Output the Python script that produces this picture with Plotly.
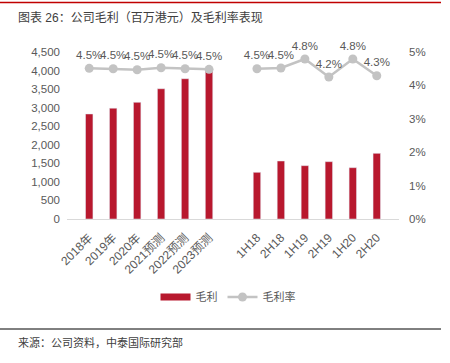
import plotly.graph_objects as go

categories = ["2018年", "2019年", "2020年", "2021预测", "2022预测", "2023预测", " ",
              "1H18", "2H18", "1H19", "2H19", "1H20", "2H20"]
gross_profit = [2830, 2985, 3145, 3510, 3780, 3990, None,
                1258, 1563, 1437, 1545, 1383, 1770]
gross_margin = [4.51, 4.50, 4.47, 4.53, 4.50, 4.48, None,
                4.50, 4.52, 4.79, 4.25, 4.79, 4.29]
margin_labels = ["4.5%", "4.5%", "4.5%", "4.5%", "4.5%", "4.5%", "",
                 "4.5%", "4.5%", "4.8%", "4.2%", "4.8%", "4.3%"]
left_ticks = [0, 500, 1000, 1500, 2000, 2500, 3000, 3500, 4000, 4500]
right_ticks = [0, 1, 2, 3, 4, 5]
right_tick_labels = ["0%", "1%", "2%", "3%", "4%", "5%"]

W, H = 450, 363
L, R, T, B = 67, 51, 52, 144
pw, ph = W - L - R, H - T - B

def px(x):
    return (x - L) / pw

def py(y):
    return (H - B - y) / ph

RED = "#B8182E"
GRAY_LINE = "#C3C3C3"
TXT = "#595959"
FONT = "Liberation Sans, Noto Sans CJK SC, sans-serif"

fig = go.Figure()
fig.add_trace(go.Bar(x=categories, y=gross_profit, marker_color=RED, width=0.31,
                     name="毛利", showlegend=False))
fig.add_trace(go.Scatter(x=[categories[0]], y=[None], mode="lines",
                         line=dict(color=RED, width=7), name="毛利", showlegend=True))
fig.add_trace(go.Scatter(x=categories, y=gross_margin, yaxis="y2", name="毛利率",
                         mode="lines+markers+text", text=margin_labels,
                         textposition="top center",
                         textfont=dict(size=11.5, color=TXT, family=FONT),
                         line=dict(color=GRAY_LINE, width=2.5),
                         marker=dict(color=GRAY_LINE, size=9),
                         connectgaps=False, cliponaxis=False))

fig.update_layout(
    width=W, height=H,
    margin=dict(l=L, r=R, t=T, b=B, autoexpand=False),
    paper_bgcolor="white", plot_bgcolor="white",
    font=dict(family=FONT, size=11, color=TXT),
    bargap=0.69,
    xaxis=dict(type="category", tickangle=-45, showgrid=False, showline=True,
               linecolor="#D9D9D9", linewidth=1, ticks="", automargin=False,
               ticklabelstandoff=6, tickfont=dict(size=12, color=TXT)),
    yaxis=dict(range=[0, 4500], tickvals=left_ticks, tickformat=",",
               showgrid=False, zeroline=False, showline=False, ticks="",
               automargin=False, ticklabelstandoff=6,
               tickfont=dict(size=11.5, color=TXT)),
    yaxis2=dict(range=[0, 5], tickvals=right_ticks, ticktext=right_tick_labels,
                overlaying="y", side="right", showgrid=False, zeroline=False,
                showline=False, ticks="", automargin=False, ticklabelstandoff=9,
                tickfont=dict(size=11.5, color=TXT)),
    legend=dict(orientation="h", x=px(228), xanchor="center", y=py(297),
                yanchor="middle", font=dict(size=11, color=TXT), itemwidth=30),
    showlegend=True,
)

fig.add_shape(type="line", xref="paper", yref="paper", x0=px(0), x1=px(441),
              y0=py(2.5), y1=py(2.5), line=dict(color="#C00000", width=1.5))
fig.add_shape(type="line", xref="paper", yref="paper", x0=px(0), x1=px(441),
              y0=py(329), y1=py(329), line=dict(color="#000000", width=1))
fig.add_annotation(xref="paper", yref="paper", x=px(16), y=py(18), xanchor="left",
                   yanchor="middle", showarrow=False,
                   text="图表 26：公司毛利（百万港元）及毛利率表现",
                   font=dict(size=12, color="#404040", family=FONT))
fig.add_annotation(xref="paper", yref="paper", x=px(16), y=py(342), xanchor="left",
                   yanchor="middle", showarrow=False,
                   text="来源：公司资料，中泰国际研究部",
                   font=dict(size=11, color="#404040", family=FONT))

fig.write_html("out.html", config={"displayModeBar": False},
               post_script="document.body.style.margin='0';document.body.style.padding='0';")
